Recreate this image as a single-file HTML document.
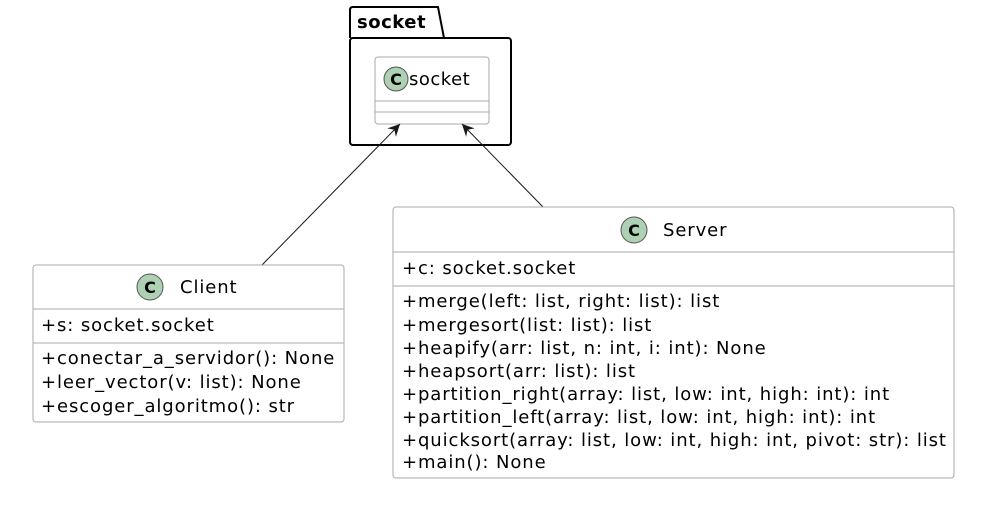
<!DOCTYPE html>
<html><head><style>
html,body{margin:0;padding:0;background:#fff;}
svg text{font-family:"DejaVu Sans","Liberation Sans",sans-serif;font-size:18px;letter-spacing:0.9px;fill:#000;}
</style></head><body>
<svg width="989" height="510" viewBox="0 0 989 510" xmlns="http://www.w3.org/2000/svg">
<defs><marker id="a" markerWidth="14" markerHeight="12" refX="13" refY="6" orient="auto" markerUnits="userSpaceOnUse">
<path d="M1,0 L13,6 L1,12 L5,6 Z" fill="#181818"/></marker></defs>
<!-- package -->
<path d="M350,38 L350,10 Q350,7 353,7 L438,7 L444,38" fill="none" stroke="#000" stroke-width="2"/>
<rect x="350" y="38" width="161" height="107" rx="3" fill="none" stroke="#000" stroke-width="2"/>
<text x="357" y="28" style="font-weight:bold;font-size:18px;letter-spacing:0.5px">socket</text>
<!-- socket class -->
<rect x="375" y="57" width="114" height="67" rx="3" fill="#fff" stroke="#aaa" stroke-width="1"/>
<line x1="375" y1="101" x2="489" y2="101" stroke="#aaa"/>
<line x1="375" y1="112" x2="489" y2="112" stroke="#aaa"/>
<circle cx="396" cy="79" r="12" fill="#ADD1B2" stroke="#555"/>
<text x="396" y="85" text-anchor="middle" style="font-weight:bold;font-size:16px;letter-spacing:0">C</text>
<text x="409" y="85" style="letter-spacing:0.5px">socket</text>
<!-- arrows -->
<line x1="262" y1="265" x2="400" y2="124" stroke="#181818" marker-end="url(#a)"/>
<line x1="543" y1="207" x2="462" y2="124" stroke="#181818" marker-end="url(#a)"/>
<!-- Client -->
<rect x="33" y="265" width="311" height="157" rx="3" fill="#fff" stroke="#aaa"/>
<line x1="33" y1="309" x2="344" y2="309" stroke="#aaa"/>
<line x1="33" y1="343" x2="344" y2="343" stroke="#aaa"/>
<circle cx="150" cy="287" r="13" fill="#ADD1B2" stroke="#555"/>
<text x="150" y="293" text-anchor="middle" style="font-weight:bold;font-size:16px;letter-spacing:0">C</text>
<text x="180" y="293">Client</text>
<text x="41" y="331">+s: socket.socket</text>
<text x="41" y="364">+conectar_a_servidor(): None</text>
<text x="41" y="388">+leer_vector(v: list): None</text>
<text x="41" y="412">+escoger_algoritmo(): str</text>
<!-- Server -->
<rect x="393" y="207" width="561" height="271" rx="3" fill="#fff" stroke="#aaa"/>
<line x1="393" y1="252" x2="954" y2="252" stroke="#aaa"/>
<line x1="393" y1="286" x2="954" y2="286" stroke="#aaa"/>
<circle cx="634" cy="230" r="13" fill="#ADD1B2" stroke="#555"/>
<text x="634" y="236" text-anchor="middle" style="font-weight:bold;font-size:16px;letter-spacing:0">C</text>
<text x="663" y="236">Server</text>
<text x="402" y="274">+c: socket.socket</text>
<text x="402" y="307">+merge(left: list, right: list): list</text>
<text x="402" y="331">+mergesort(list: list): list</text>
<text x="402" y="354">+heapify(arr: list, n: int, i: int): None</text>
<text x="402" y="377">+heapsort(arr: list): list</text>
<text x="402" y="400">+partition_right(array: list, low: int, high: int): int</text>
<text x="402" y="423">+partition_left(array: list, low: int, high: int): int</text>
<text x="402" y="446">+quicksort(array: list, low: int, high: int, pivot: str): list</text>
<text x="402" y="468">+main(): None</text>
</svg>
</body></html>
